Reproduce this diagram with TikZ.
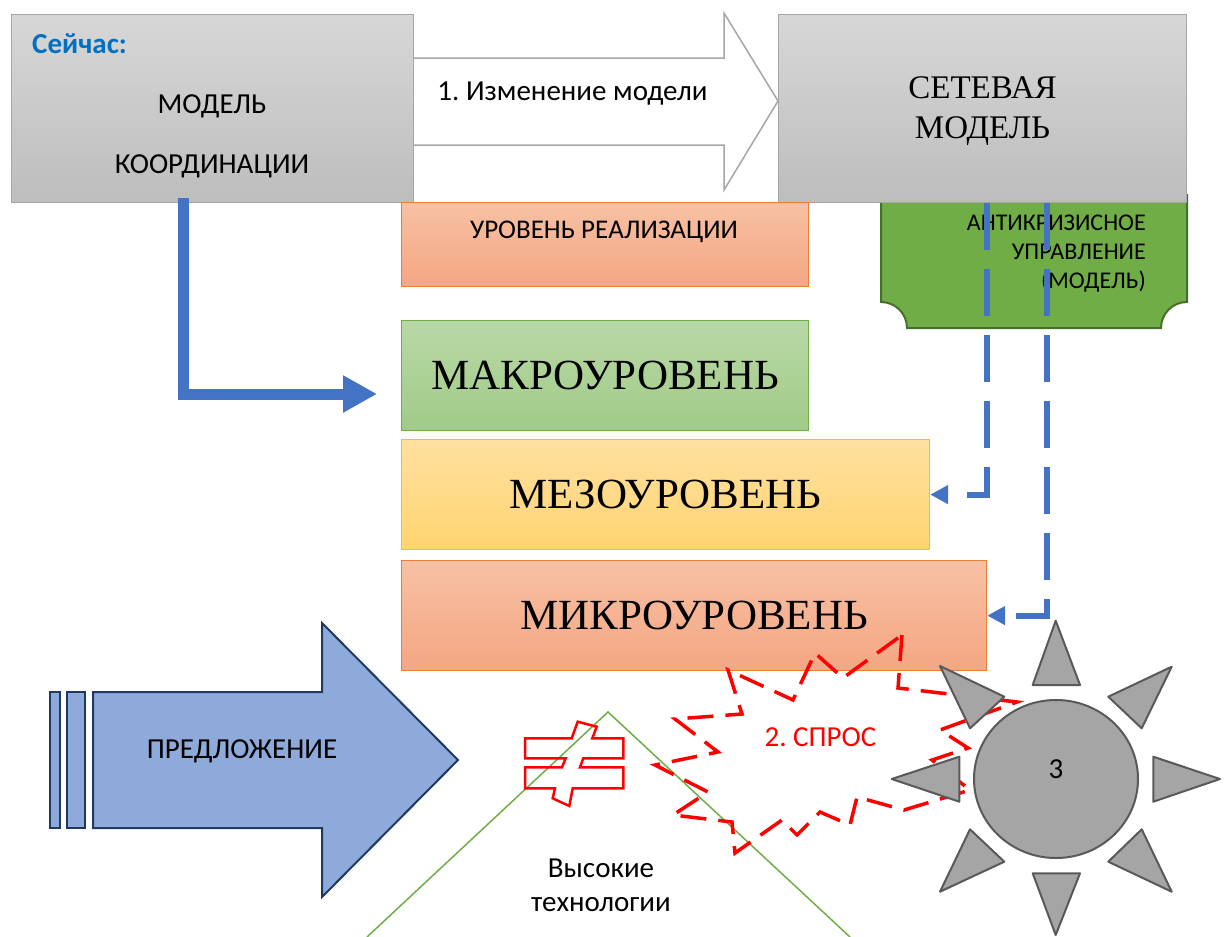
\documentclass[tikz,border=0pt]{standalone}
\usepackage{fontspec}
\setmainfont{Carlito}
\newfontfamily\timesf{Liberation Serif}
\usetikzlibrary{arrows.meta,shapes.geometric}

\definecolor{grayT}{HTML}{D7D7D7}
\definecolor{grayB}{HTML}{BDBDBD}
\definecolor{grayEdge}{HTML}{A6A6A6}
\definecolor{orangeT}{HTML}{F7C1A4}
\definecolor{orangeB}{HTML}{F4A682}
\definecolor{orangeEdge}{HTML}{ED7D31}
\definecolor{greenT}{HTML}{B8D8A6}
\definecolor{greenB}{HTML}{A1CB88}
\definecolor{greenEdge}{HTML}{70AD47}
\definecolor{yellowT}{HTML}{FFE0A0}
\definecolor{yellowB}{HTML}{FFD470}
\definecolor{yellowEdge}{HTML}{FFC000}
\definecolor{ticketFill}{HTML}{70AD47}
\definecolor{ticketEdge}{HTML}{44702B}
\definecolor{linkBlue}{HTML}{4472C4}
\definecolor{nowBlue}{HTML}{0070C0}
\definecolor{offerFill}{HTML}{8EAADB}
\definecolor{offerEdge}{HTML}{1F3864}
\definecolor{sunFill}{HTML}{A5A5A5}
\definecolor{sunEdge}{HTML}{595959}
\definecolor{demandRed}{HTML}{FF0000}

\begin{document}
\frenchspacing
\begin{tikzpicture}[x=1pt,y=-1pt,
  txt/.style={font=\fontsize{29}{34}\selectfont, inner sep=0pt, anchor=base},
  smalltxt/.style={font=\fontsize{24}{29}\selectfont, inner sep=0pt, anchor=base east},
  seriftxt/.style={font=\timesf\fontsize{33}{40}\selectfont, inner sep=0pt, anchor=base},
  levelfont/.style={font=\timesf\fontsize{43}{48}\selectfont},
  boxbase/.style={inner sep=0pt, anchor=north west, line width=1.2pt},
  graybox/.style={boxbase, draw=grayEdge, top color=grayT, bottom color=grayB},
  orangebox/.style={boxbase, draw=orangeEdge, top color=orangeT, bottom color=orangeB},
  greenbox/.style={boxbase, draw=greenEdge, top color=greenT, bottom color=greenB},
  yellowbox/.style={boxbase, draw=yellowEdge, top color=yellowT, bottom color=yellowB},
  dashlink/.style={draw=linkBlue, line width=6pt, dash pattern=on 47pt off 19pt,
    -{Triangle[length=18pt,width=18pt]}},
  ray/.style={draw=sunEdge, fill=sunFill, line width=2pt, line join=round},
  offer/.style={draw=offerEdge, fill=offerFill, line width=2pt}
]
\useasboundingbox (0,0) rectangle (1229,937);

% white block arrow between the two models
\draw[draw=grayEdge, fill=white, line width=1.5pt]
  (413,58) -- (724,58) -- (724,13) -- (778,101) -- (724,190) -- (724,145) -- (413,145) -- cycle;
\node[txt] (changeLbl) at (572.5,100) {1. Изменение модели};

% anti-crisis plaque with concave lower corners
\draw[fill=ticketFill, draw=ticketEdge, line width=2pt]
  (881,195) -- (881,302) .. controls (895.4,302) and (907,313.6) .. (907,328)
  -- (1161,328) .. controls (1161,313.6) and (1172.6,302) .. (1187,302)
  -- (1187,195) -- cycle;
\node[smalltxt] (crisis1) at (1146,230) {АНТИКРИЗИСНОЕ};
\node[smalltxt] (crisis2) at (1146,259) {УПРАВЛЕНИЕ};
\node[smalltxt] (crisis3) at (1146,288) {(МОДЕЛЬ)};

% the two model boxes
\node[graybox, minimum width=402pt, minimum height=188pt] (coord) at (11,14) {};
\node[font=\bfseries\fontsize{29}{34}\selectfont, text=nowBlue, inner sep=0pt, anchor=base west] (nowLbl) at (32,53) {Сейчас:};
\node[txt] (coordL1) at (212,113) {МОДЕЛЬ};
\node[txt] (coordL2) at (212,173) {КООРДИНАЦИИ};

\node[graybox, minimum width=408pt, minimum height=188pt] (netbox) at (778,14) {};
\node[seriftxt] (netL1) at (982.5,98) {СЕТЕВАЯ};
\node[seriftxt] (netL2) at (982.5,138) {МОДЕЛЬ};

% levels
\node[orangebox, minimum width=407pt, minimum height=84pt] (impl) at (401,202) {};
\node[txt, font=\fontsize{27}{32}\selectfont] (implLbl) at (604,238) {УРОВЕНЬ РЕАЛИЗАЦИИ};
\node[greenbox, levelfont, minimum width=407pt, minimum height=110pt] (macro) at (401,320) {МАКРОУРОВЕНЬ};
\node[yellowbox, levelfont, minimum width=528pt, minimum height=110pt] (meso) at (401,439) {МЕЗОУРОВЕНЬ};
\node[orangebox, levelfont, minimum width=585pt, minimum height=110pt] (micro) at (401,560) {МИКРОУРОВЕНЬ};

% connectors
\coordinate (macroIn) at (377,394);
\draw[draw=linkBlue, line width=11pt, -{Triangle[length=34pt,width=35pt]}]
  ([xshift=-29pt,yshift=5pt]coord.south) |- (macroIn);
\draw[dashlink] ([xshift=4pt]netbox.south) |- (meso.east);
\draw[dashlink] ([xshift=64pt]netbox.south) |- (micro.east);

% high technologies peak
\draw[draw=greenEdge, line width=1.5pt] (367,937) -- (608,712) -- (850,937);
\node[txt] (hiTech1) at (601,877) {Высокие};
\node[txt] (hiTech2) at (601,911) {технологии};

% not-equal sign
\draw[draw=demandRed, line width=2.5pt, line join=miter]
  (525,738.3) -- (571.7,738.3) -- (577.7,721.7) -- (596.7,726.7) -- (592.3,738.3)
  -- (623.3,738.3) -- (623.3,758.3) -- (583.3,758.3) -- (580,767.3) -- (623.3,767.3)
  -- (623.3,788.3) -- (572.7,788.3) -- (569.3,806) -- (552.7,798.3) -- (555,788.3)
  -- (525,788.3) -- (525,767.3) -- (562,767.3) -- (565.7,758.3) -- (525,758.3) -- cycle;

% demand burst
\draw[draw=demandRed, line width=3.5pt, dash pattern=on 26pt off 12pt, line join=miter]
  (902,635) -- (898,688) -- (1017,702) -- (940,730) -- (968,748) -- (932,760)
  -- (970,790) -- (904,810) -- (857,797) -- (850,825) -- (820,812) -- (797,835)
  -- (782,820) -- (735,853) -- (732,822) -- (673,815) -- (708,792) -- (655,765)
  -- (718,752) -- (675,719) -- (742,714) -- (728,670) -- (793,700) -- (815,653)
  -- (843,678) -- cycle;
\node[txt, text=demandRed] (demandLbl) at (820.5,746) {2. СПРОС};

% sun
\draw[ray] (1032.7,685) -- (1080,685) -- (1055.7,620.7) -- cycle;
\draw[ray] (1032.7,873.3) -- (1080,873.3) -- (1055.7,935) -- cycle;
\draw[ray] (959.3,756.7) -- (959.3,801.7) -- (891.7,779) -- cycle;
\draw[ray] (1153.3,756.7) -- (1153.3,801.7) -- (1220,779) -- cycle;
\draw[ray] (940,666) -- (1004.3,696.7) -- (970,728.3) -- cycle;
\draw[ray] (1171.7,666.7) -- (1108.3,696.7) -- (1141.7,728.3) -- cycle;
\draw[ray] (970,829.3) -- (1004.3,861.7) -- (940,891.7) -- cycle;
\draw[ray] (1141.7,829.3) -- (1108.3,861.7) -- (1171.7,891.7) -- cycle;
\node[ellipse, draw=sunEdge, fill=sunFill, line width=2pt, minimum width=164pt, minimum height=158pt, inner sep=0pt] (sun) at (1056,779) {};
\node[txt] (sunLbl) at (1056,778) {3};

% supply striped arrow
\draw[offer] (50,692) rectangle (60,828);
\draw[offer] (67,692) rectangle (85,828);
\draw[offer, line join=miter]
  (93,692) -- (322,692) -- (322,623) -- (458,760) -- (322,897) -- (322,828) -- (93,828) -- cycle;
\node[txt] (offerLbl) at (242,758) {ПРЕДЛОЖЕНИЕ};
\end{tikzpicture}
\end{document}
